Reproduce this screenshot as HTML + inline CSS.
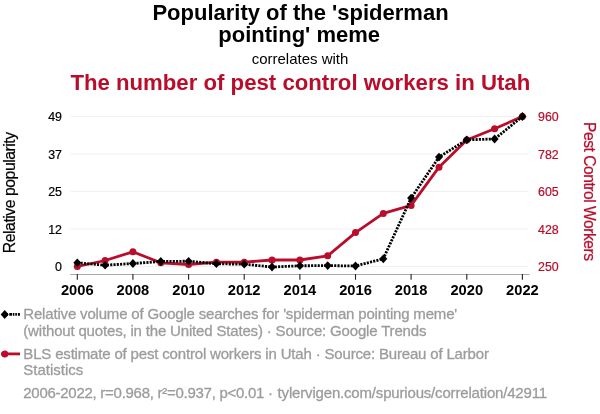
<!DOCTYPE html>
<html><head><meta charset="utf-8"><title>Spurious correlation</title>
<style>
html,body{margin:0;padding:0;background:#fff;}
svg{display:block;font-family:"Liberation Sans",sans-serif;}
</style></head><body>
<svg width="600" height="414" viewBox="0 0 600 414">
<rect width="600" height="414" fill="#fff"/>
<text x="300.5" y="20" text-anchor="middle" font-size="22" font-weight="bold" fill="#000">Popularity of the 'spiderman</text>
<text x="299.2" y="41.7" text-anchor="middle" font-size="22" font-weight="bold" fill="#000">pointing' meme</text>
<text x="300" y="63.5" text-anchor="middle" font-size="15" fill="#000">correlates with</text>
<text x="300.3" y="89.6" text-anchor="middle" font-size="22.2" font-weight="bold" fill="#ba0d2b">The number of pest control workers in Utah</text>
<line x1="70.5" x2="528" y1="116.5" y2="116.5" stroke="#f0f0f0" stroke-width="1"/><line x1="70.5" x2="528" y1="154" y2="154" stroke="#f0f0f0" stroke-width="1"/><line x1="70.5" x2="528" y1="191.5" y2="191.5" stroke="#f0f0f0" stroke-width="1"/><line x1="70.5" x2="528" y1="229" y2="229" stroke="#f0f0f0" stroke-width="1"/><line x1="70.5" x2="528" y1="266.5" y2="266.5" stroke="#f0f0f0" stroke-width="1"/>
<line x1="70" x2="529.5" y1="274.5" y2="274.5" stroke="#aaa" stroke-width="1"/>
<line x1="77.3" x2="77.3" y1="274" y2="279.8" stroke="#222" stroke-width="1.1"/><line x1="132.9" x2="132.9" y1="274" y2="279.8" stroke="#222" stroke-width="1.1"/><line x1="188.6" x2="188.6" y1="274" y2="279.8" stroke="#222" stroke-width="1.1"/><line x1="244.2" x2="244.2" y1="274" y2="279.8" stroke="#222" stroke-width="1.1"/><line x1="299.9" x2="299.9" y1="274" y2="279.8" stroke="#222" stroke-width="1.1"/><line x1="355.5" x2="355.5" y1="274" y2="279.8" stroke="#222" stroke-width="1.1"/><line x1="411.1" x2="411.1" y1="274" y2="279.8" stroke="#222" stroke-width="1.1"/><line x1="466.8" x2="466.8" y1="274" y2="279.8" stroke="#222" stroke-width="1.1"/><line x1="522.4" x2="522.4" y1="274" y2="279.8" stroke="#222" stroke-width="1.1"/>
<text x="77.3" y="295" text-anchor="middle" font-size="14.7" font-weight="bold" fill="#000">2006</text><text x="132.9" y="295" text-anchor="middle" font-size="14.7" font-weight="bold" fill="#000">2008</text><text x="188.6" y="295" text-anchor="middle" font-size="14.7" font-weight="bold" fill="#000">2010</text><text x="244.2" y="295" text-anchor="middle" font-size="14.7" font-weight="bold" fill="#000">2012</text><text x="299.9" y="295" text-anchor="middle" font-size="14.7" font-weight="bold" fill="#000">2014</text><text x="355.5" y="295" text-anchor="middle" font-size="14.7" font-weight="bold" fill="#000">2016</text><text x="411.1" y="295" text-anchor="middle" font-size="14.7" font-weight="bold" fill="#000">2018</text><text x="466.8" y="295" text-anchor="middle" font-size="14.7" font-weight="bold" fill="#000">2020</text><text x="522.4" y="295" text-anchor="middle" font-size="14.7" font-weight="bold" fill="#000">2022</text><text x="62" y="121.2" text-anchor="end" font-size="12.4" fill="#000" stroke="#000" stroke-width="0.2">49</text><text x="62" y="158.7" text-anchor="end" font-size="12.4" fill="#000" stroke="#000" stroke-width="0.2">37</text><text x="62" y="196.2" text-anchor="end" font-size="12.4" fill="#000" stroke="#000" stroke-width="0.2">25</text><text x="62" y="233.7" text-anchor="end" font-size="12.4" fill="#000" stroke="#000" stroke-width="0.2">12</text><text x="62" y="271.2" text-anchor="end" font-size="12.4" fill="#000" stroke="#000" stroke-width="0.2">0</text><text x="538" y="121.2" font-size="12.4" fill="#ba0d2b" stroke="#ba0d2b" stroke-width="0.2">960</text><text x="538" y="158.7" font-size="12.4" fill="#ba0d2b" stroke="#ba0d2b" stroke-width="0.2">782</text><text x="538" y="196.2" font-size="12.4" fill="#ba0d2b" stroke="#ba0d2b" stroke-width="0.2">605</text><text x="538" y="233.7" font-size="12.4" fill="#ba0d2b" stroke="#ba0d2b" stroke-width="0.2">428</text><text x="538" y="271.2" font-size="12.4" fill="#ba0d2b" stroke="#ba0d2b" stroke-width="0.2">250</text>
<text transform="translate(15.4,192.5) rotate(-90)" text-anchor="middle" font-size="15.8" textLength="121.3" fill="#000" stroke="#000" stroke-width="0.2">Relative popularity</text>
<text transform="translate(584.2,191.5) rotate(90)" text-anchor="middle" font-size="15.6" textLength="138.9" fill="#ba0d2b" stroke="#ba0d2b" stroke-width="0.25">Pest Control Workers</text>
<polyline points="77.3,266.5 105.1,260.5 132.9,251.8 160.8,262.8 188.6,264.5 216.4,262.2 244.2,262.2 272.0,260.0 299.9,260.0 327.7,255.8 355.5,232.6 383.3,213.4 411.1,205.4 439.0,167.2 466.8,140.0 494.6,128.7 522.4,116.5" fill="none" stroke="#ba0d2b" stroke-width="2.8" stroke-linejoin="round"/>
<circle cx="77.3" cy="266.5" r="3.5" fill="#ba0d2b"/><circle cx="105.1" cy="260.5" r="3.5" fill="#ba0d2b"/><circle cx="132.9" cy="251.8" r="3.5" fill="#ba0d2b"/><circle cx="160.8" cy="262.8" r="3.5" fill="#ba0d2b"/><circle cx="188.6" cy="264.5" r="3.5" fill="#ba0d2b"/><circle cx="216.4" cy="262.2" r="3.5" fill="#ba0d2b"/><circle cx="244.2" cy="262.2" r="3.5" fill="#ba0d2b"/><circle cx="272.0" cy="260.0" r="3.5" fill="#ba0d2b"/><circle cx="299.9" cy="260.0" r="3.5" fill="#ba0d2b"/><circle cx="327.7" cy="255.8" r="3.5" fill="#ba0d2b"/><circle cx="355.5" cy="232.6" r="3.5" fill="#ba0d2b"/><circle cx="383.3" cy="213.4" r="3.5" fill="#ba0d2b"/><circle cx="411.1" cy="205.4" r="3.5" fill="#ba0d2b"/><circle cx="439.0" cy="167.2" r="3.5" fill="#ba0d2b"/><circle cx="466.8" cy="140.0" r="3.5" fill="#ba0d2b"/><circle cx="494.6" cy="128.7" r="3.5" fill="#ba0d2b"/><circle cx="522.4" cy="116.5" r="3.5" fill="#ba0d2b"/>
<polyline points="77.3,262.8 105.1,265.2 132.9,263.5 160.8,261.5 188.6,261.2 216.4,263.8 244.2,264.2 272.0,267.0 299.9,265.8 327.7,265.6 355.5,266.0 383.3,258.8 411.1,198.1 439.0,157.1 466.8,139.8 494.6,139.0 522.4,116.5" fill="none" stroke="#000" stroke-width="2.8" stroke-dasharray="2.1,1.2" stroke-linejoin="round"/>
<path d="M77.3 258.4L81.3 262.8L77.3 267.1L73.3 262.8Z" fill="#000"/><path d="M105.1 260.9L109.1 265.2L105.1 269.6L101.1 265.2Z" fill="#000"/><path d="M132.9 259.1L136.9 263.5L132.9 267.9L128.9 263.5Z" fill="#000"/><path d="M160.8 257.1L164.8 261.5L160.8 265.9L156.8 261.5Z" fill="#000"/><path d="M188.6 256.9L192.6 261.2L188.6 265.6L184.6 261.2Z" fill="#000"/><path d="M216.4 259.4L220.4 263.8L216.4 268.1L212.4 263.8Z" fill="#000"/><path d="M244.2 259.9L248.2 264.2L244.2 268.6L240.2 264.2Z" fill="#000"/><path d="M272.0 262.6L276.0 267.0L272.0 271.4L268.0 267.0Z" fill="#000"/><path d="M299.9 261.4L303.9 265.8L299.9 270.1L295.9 265.8Z" fill="#000"/><path d="M327.7 261.2L331.7 265.6L327.7 270.0L323.7 265.6Z" fill="#000"/><path d="M355.5 261.6L359.5 266.0L355.5 270.4L351.5 266.0Z" fill="#000"/><path d="M383.3 254.4L387.3 258.8L383.3 263.2L379.3 258.8Z" fill="#000"/><path d="M411.1 193.7L415.1 198.1L411.1 202.5L407.1 198.1Z" fill="#000"/><path d="M439.0 152.7L443.0 157.1L439.0 161.5L435.0 157.1Z" fill="#000"/><path d="M466.8 135.4L470.8 139.8L466.8 144.2L462.8 139.8Z" fill="#000"/><path d="M494.6 134.6L498.6 139.0L494.6 143.4L490.6 139.0Z" fill="#000"/><path d="M522.4 112.1L526.4 116.5L522.4 120.9L518.4 116.5Z" fill="#000"/>
<path d="M2 313h6v2.8h-6zM9.3 313h2.7v2.8h-2.7zM12.8 313h1.6v2.8h-1.6zM15.3 313h1.6v2.8h-1.6zM17.9 313h2v2.8h-2z" fill="#000"/>
<path d="M4.7 310.1L8.7 314.5L4.7 318.9L0.7 314.5Z" fill="#000"/>
<text x="23.3" y="318.8" font-size="15" textLength="433.9" fill="#9c9c9c" stroke="#9c9c9c" stroke-width="0.3">Relative volume of Google searches for 'spiderman pointing meme'</text>
<text x="23.3" y="335.5" font-size="15" textLength="403.1" fill="#9c9c9c" stroke="#9c9c9c" stroke-width="0.3">(without quotes, in the United States) · Source: Google Trends</text>
<line x1="1" x2="20" y1="353.9" y2="353.9" stroke="#ba0d2b" stroke-width="2.8"/>
<circle cx="4.8" cy="353.9" r="3.5" fill="#ba0d2b"/>
<text x="23.3" y="359.2" font-size="15" textLength="465.6" fill="#9c9c9c" stroke="#9c9c9c" stroke-width="0.3">BLS estimate of pest control workers in Utah · Source: Bureau of Larbor</text>
<text x="23.3" y="375.2" font-size="15" fill="#9c9c9c" stroke="#9c9c9c" stroke-width="0.3">Statistics</text>
<text x="23.3" y="398.3" font-size="15" fill="#9c9c9c" stroke="#9c9c9c" stroke-width="0.3"><tspan textLength="249.7">2006-2022, r=0.968, r²=0.937, p&lt;0.01 ·</tspan><tspan x="277.6" textLength="269.5">tylervigen.com/spurious/correlation/42911</tspan></text>
</svg>
</body></html>
